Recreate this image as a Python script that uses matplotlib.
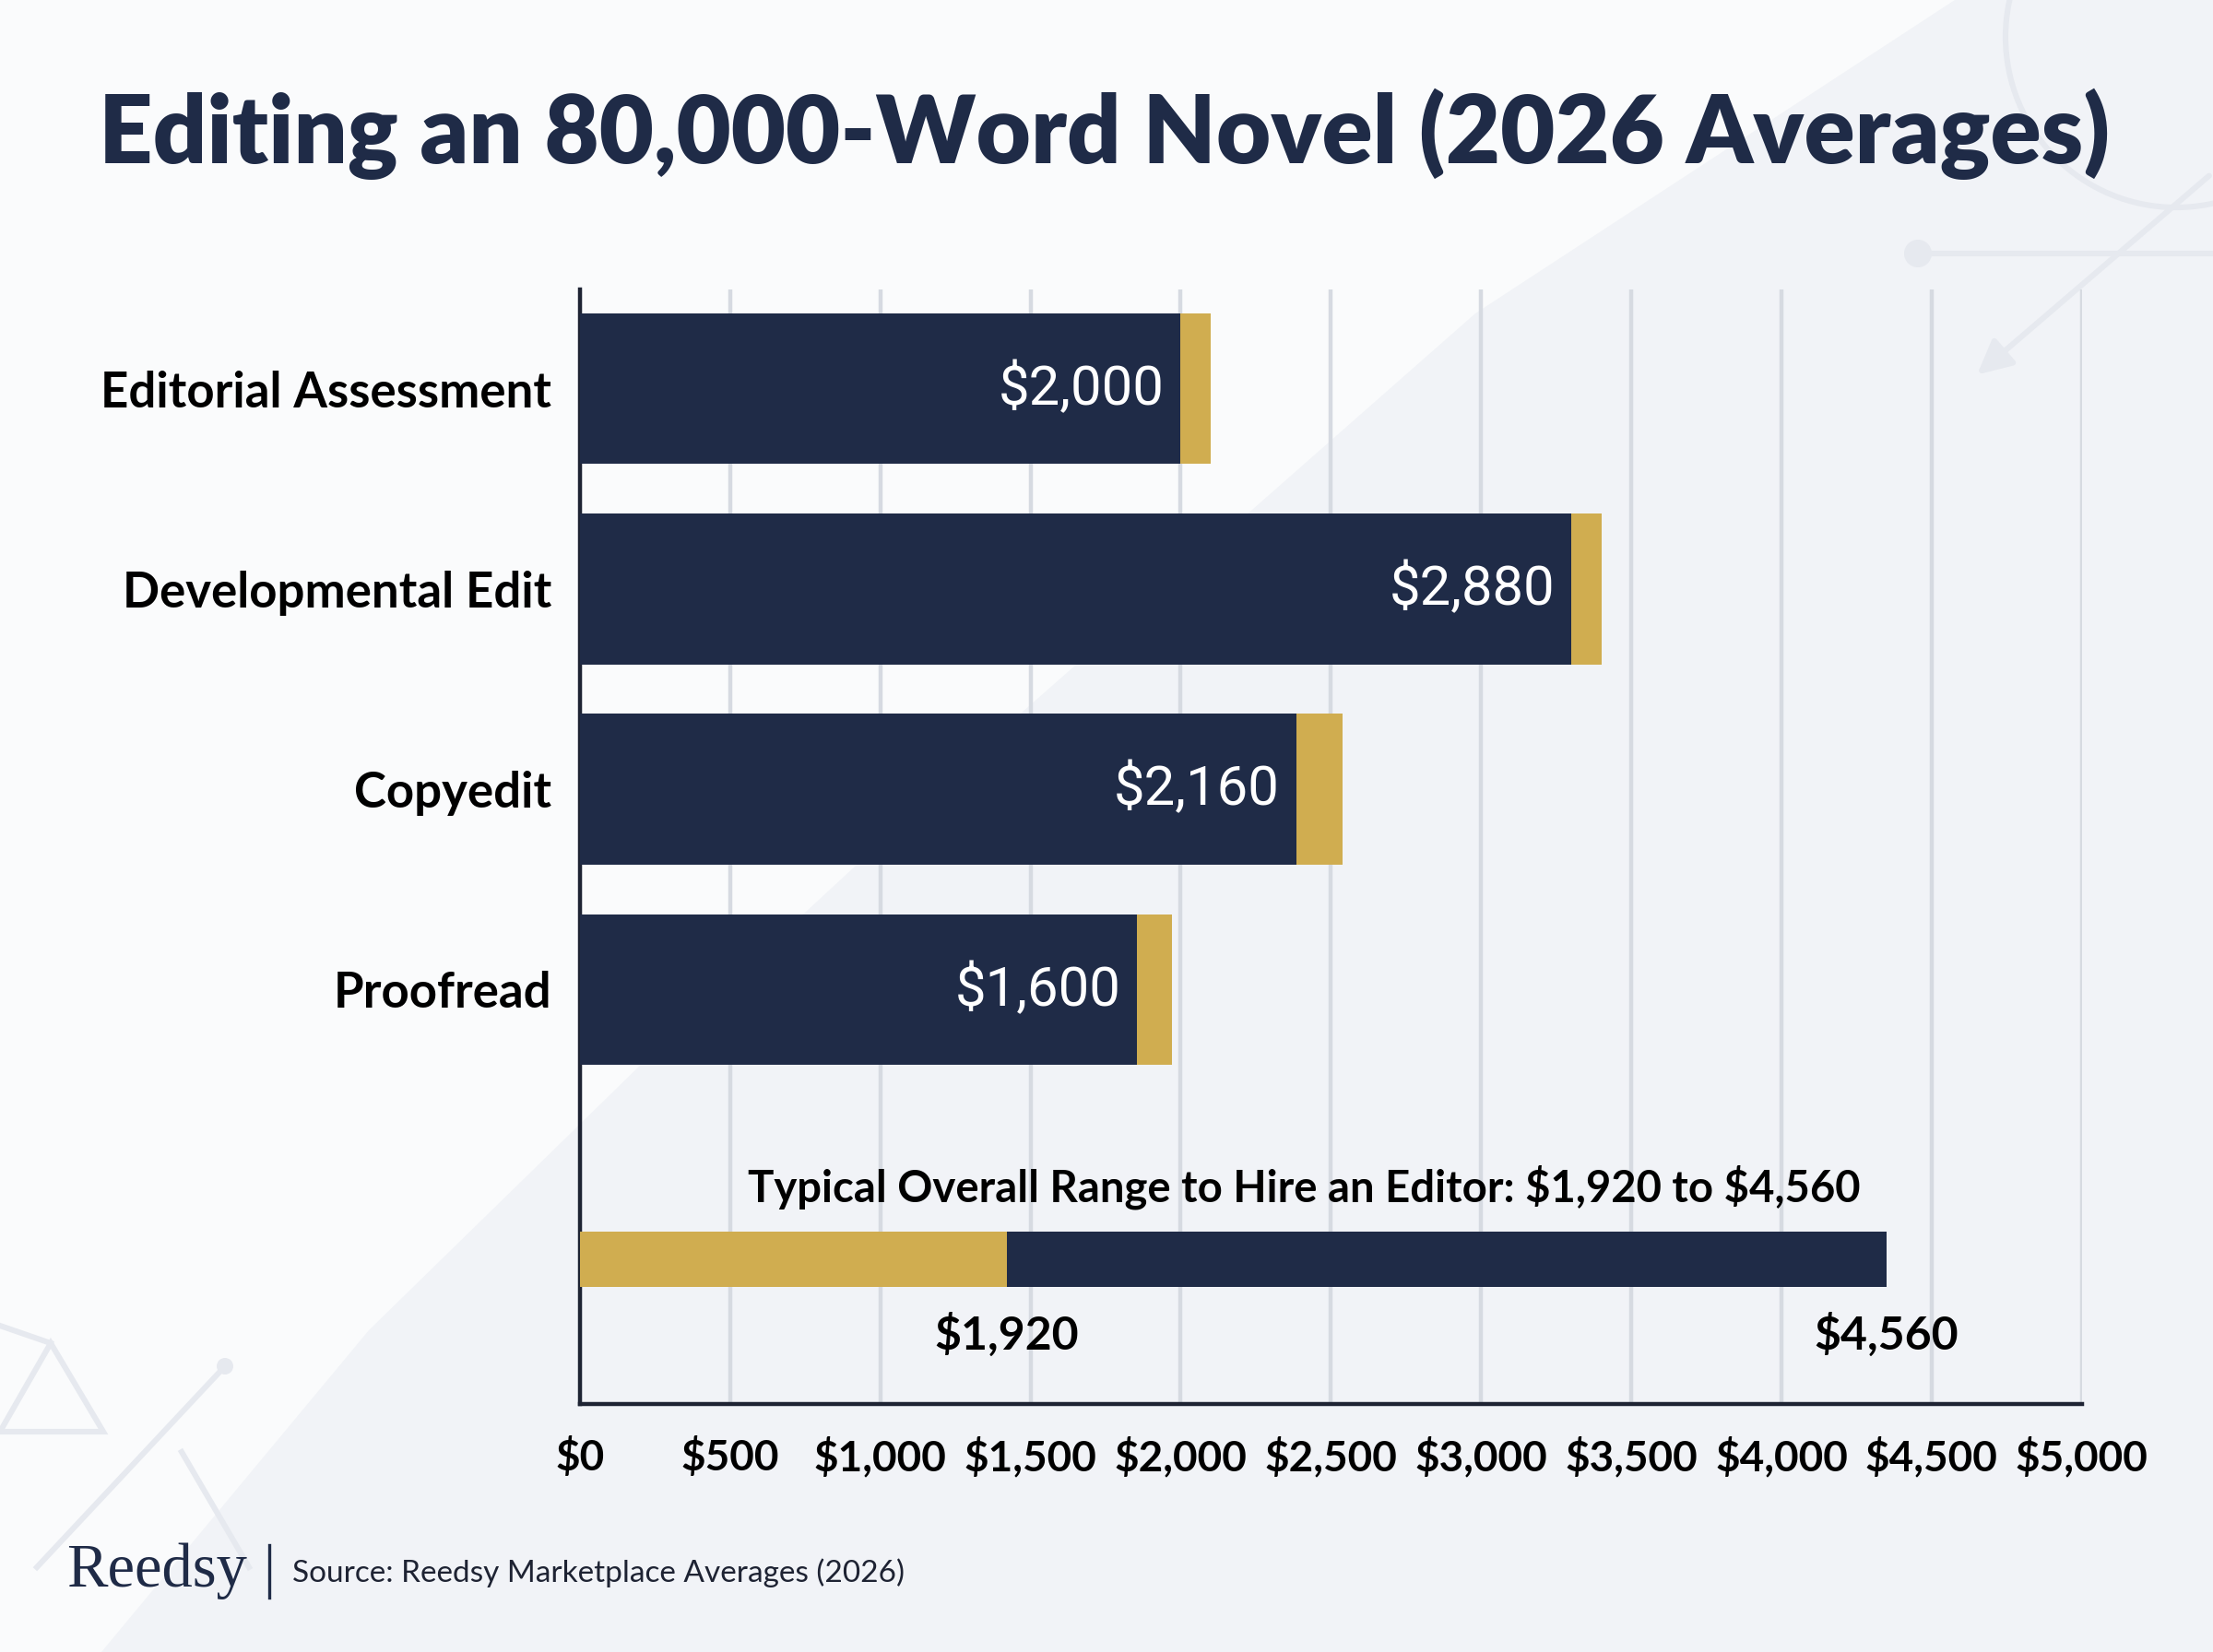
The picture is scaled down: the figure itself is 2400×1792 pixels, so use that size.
import matplotlib
matplotlib.use("Agg")
import matplotlib.pyplot as plt
from matplotlib.patches import Polygon, Circle
import numpy as np

# values (bar ends as drawn against the $ axis)
categories = ["Editorial Assessment", "Developmental Edit", "Copyedit", "Proofread"]
base_ends = [2000, 3300, 2385, 1855]
gold_ends = [2100, 3400, 2540, 1970]
value_labels = ["$2,000", "$2,880", "$2,160", "$1,600"]

range_low = 1420
range_high = 4350
range_labels = ["$1,920", "$4,560"]
range_title = r"Typical Overall Range to Hire an Editor: \$1,920 to \$4,560"

ticks = [0, 500, 1000, 1500, 2000, 2500, 3000, 3500, 4000, 4500, 5000]

NAVY = "#1f2b47"
GOLD = "#d0ad50"
GRID = "#d6dae1"
DECO = "#e6e9ef"

W, H = 2400, 1792
fig = plt.figure(figsize=(12, 8.96), dpi=200)
fig.patch.set_facecolor("#f1f3f7")

# background layer in pixel coordinates
bg = fig.add_axes([0, 0, 1, 1], zorder=-5)
bg.set_xlim(0, W)
bg.set_ylim(H, 0)
bg.axis("off")
white_area = [(0, 0), (2120, 0), (1600, 340), (1100, 780), (700, 1150),
              (400, 1443), (110, 1792), (0, 1792)]
bg.add_patch(Polygon(white_area, closed=True, facecolor="#fafbfc", edgecolor="none"))
# decorative shapes, top right
bg.add_patch(Circle((2360, 40), 185, facecolor="none", edgecolor=DECO, lw=2.2))
bg.plot([2080, 2400], [275, 275], color=DECO, lw=2.2)
bg.add_patch(Circle((2080, 275), 15, facecolor=DECO, edgecolor="none"))
bg.annotate("", xy=(2140, 410), xytext=(2400, 187),
            arrowprops=dict(arrowstyle="-|>", color=DECO, lw=2.2, mutation_scale=28))
# decorative shapes, bottom left
bg.add_patch(Polygon([(55, 1457), (0, 1553), (112, 1553)], closed=True,
                     facecolor="none", edgecolor=DECO, lw=2.2))
bg.plot([0, 55], [1438, 1457], color=DECO, lw=2.2)
bg.plot([244, 40], [1482, 1700], color=DECO, lw=2.2)
bg.add_patch(Circle((244, 1482), 9, facecolor=DECO, edgecolor="none"))
bg.plot([197, 270], [1575, 1700], color=DECO, lw=2.2)

ax = fig.add_axes([0.2621, 0.1503, 0.6786, 0.6746])
ax.set_facecolor("none")

y = np.arange(len(categories))
bar_h = 0.754
ax.barh(y, base_ends, height=bar_h, color=NAVY, zorder=3)
ax.barh(y, np.array(gold_ends) - np.array(base_ends), left=base_ends,
        height=bar_h, color=GOLD, zorder=3)

for yi, end, lab in zip(y, base_ends, value_labels):
    ax.text(end - 55, yi, lab, ha="right", va="center", color="white",
            fontsize=21.5, family="Roboto", zorder=4)

# overall range bar
ry = 4.345
ax.barh(ry, range_low, height=0.275, color=GOLD, zorder=3)
ax.barh(ry, range_high - range_low, left=range_low, height=0.275, color=NAVY, zorder=3)
ax.text(2410, ry - 0.36, range_title, ha="center", va="center", color="black",
        fontsize=17, family="Lato", fontweight="bold")
for xv, lab in zip([range_low, range_high], range_labels):
    ax.text(xv, ry + 0.375, lab, ha="center", va="center", color="black",
            fontsize=18, family="Lato", fontweight="bold")

ax.set_xlim(0, 5000)
ax.set_ylim(5.067, -0.496)
ax.set_xticks(ticks)
ax.set_xticklabels(["$" + format(t, ",") for t in ticks], family="Lato",
                   fontweight="bold", fontsize=16.5)
ax.set_yticks(y)
ax.set_yticklabels(categories, family="Lato", fontweight="bold", fontsize=19)
ax.tick_params(axis="both", length=0)
ax.tick_params(axis="x", pad=13)
ax.tick_params(axis="y", pad=11)
ax.grid(axis="x", color=GRID, lw=1.6, zorder=0)
for side in ["top", "right"]:
    ax.spines[side].set_visible(False)
for side in ["left", "bottom"]:
    ax.spines[side].set_color("#1e2333")
    ax.spines[side].set_linewidth(1.6)

fig.text(0.499, 0.919, "Editing an 80,000-Word Novel (2026 Averages)", ha="center",
         va="center", color=NAVY, fontsize=36.8, family="Lato", fontweight="heavy")

# footer
fig.text(0.030, 0.049, "Reedsy", ha="left", va="center", color=NAVY,
         fontsize=24, family="Liberation Serif")
fig.add_artist(plt.Line2D([0.1218, 0.1218], [0.033, 0.065], color=NAVY, lw=1.2))
fig.text(0.132, 0.048, "Source: Reedsy Marketplace Averages (2026)", ha="left",
         va="center", color="#1e2333", fontsize=12, family="Lato")

fig.savefig("out.png", dpi=200, facecolor=fig.get_facecolor())
